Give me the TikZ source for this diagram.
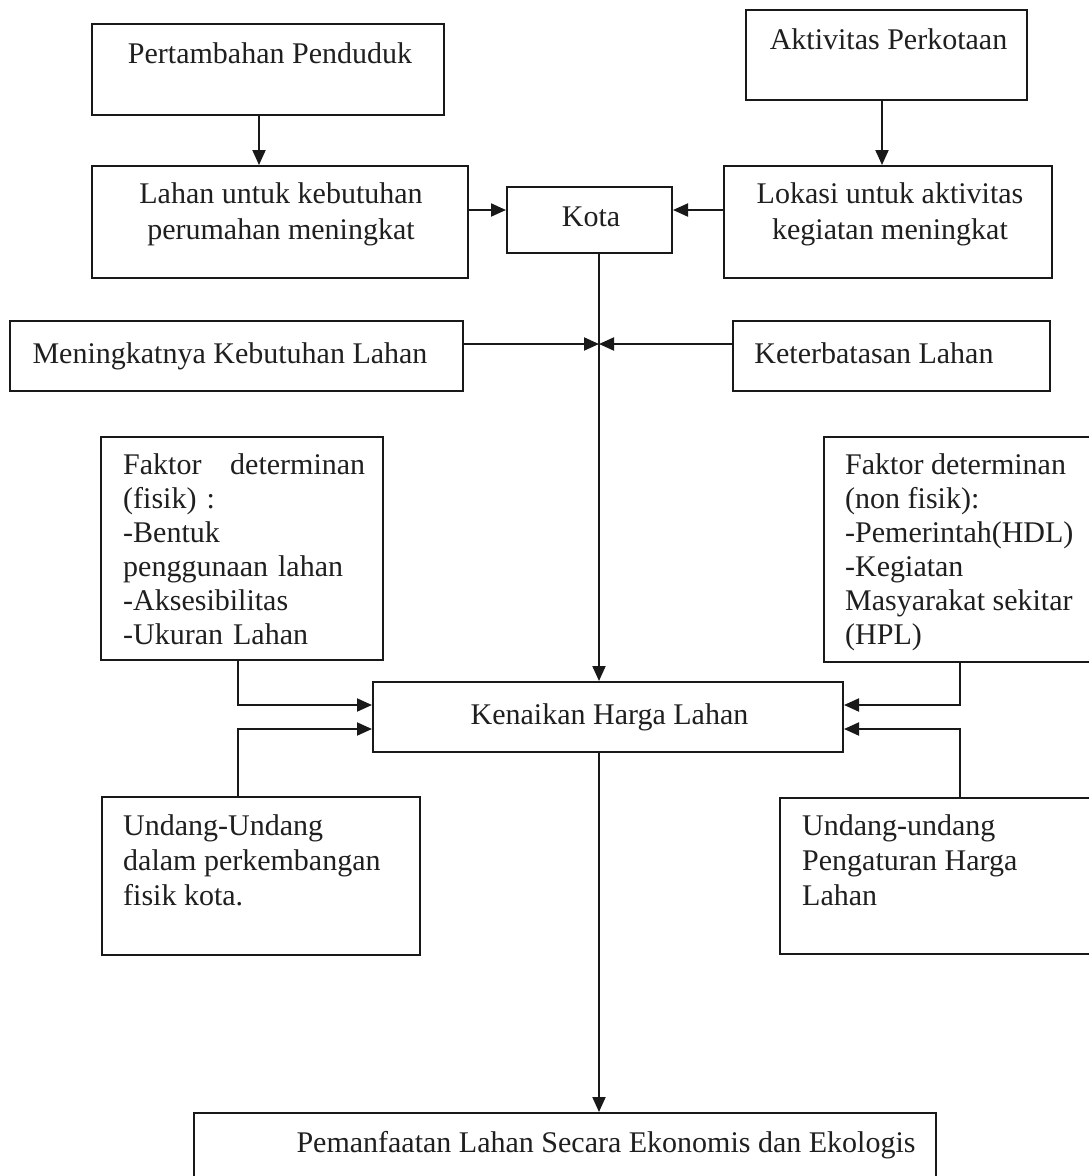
\documentclass[tikz,border=0pt]{standalone}
\usepackage{fontspec}
\setmainfont{Liberation Serif}
\usetikzlibrary{arrows.meta}
\begin{document}
\begin{tikzpicture}[x=1pt,y=-1pt,
  box/.style={draw=black!90, line width=2pt, inner sep=0pt, anchor=north west},
  txt/.style={inner sep=0pt, text=black!88, font=\fontsize{30}{34}\selectfont},
  mtxt/.style={txt, anchor=north west, align=left},
  ctxt/.style={txt, anchor=north, align=center, font=\fontsize{30}{36}\selectfont},
  con/.style={draw=black!90, line width=2pt, -{Triangle[length=15pt,width=13pt]}}]
\useasboundingbox (0,0) rectangle (1089,1176);
\fill[white] (0,0) rectangle (1089,1176);
\clip (0,0) rectangle (1089,1176);
% boxes
\node[box, minimum width=352pt, minimum height=91pt]  (pp)   at (91,23)   {};
\node[box, minimum width=281pt, minimum height=90pt]  (ap)   at (745,9)   {};
\node[box, minimum width=376pt, minimum height=112pt] (lk)   at (91,165)  {};
\node[box, minimum width=165pt, minimum height=66pt]  (kota) at (506,186) {};
\node[box, minimum width=328pt, minimum height=112pt] (la)   at (723,165) {};
\node[box, minimum width=453pt, minimum height=70pt]  (mk)   at (9,320)   {};
\node[box, minimum width=317pt, minimum height=70pt]  (kl)   at (732,320) {};
\node[box, minimum width=282pt, minimum height=223pt] (ff)   at (100,436) {};
\node[box, minimum width=290pt, minimum height=225pt] (fn)   at (823,436) {};
\node[box, minimum width=470pt, minimum height=70pt]  (kh)   at (372,681) {};
\node[box, minimum width=318pt, minimum height=158pt] (ul)   at (101,796) {};
\node[box, minimum width=330pt, minimum height=156pt] (ur)   at (779,797) {};
\node[box, minimum width=742pt, minimum height=80pt]  (pm)   at (193,1112) {};
% texts
\node[txt, anchor=base] (tpp) at (270,63) {Pertambahan Penduduk};
\node[txt, anchor=base] (tap) at (888.5,49) {Aktivitas Perkotaan};
\node[ctxt] (tlk) at (281,181) {\rule{0pt}{22pt}Lahan untuk kebutuhan\\perumahan meningkat};
\node[txt, anchor=base] (tkota) at (591,226) {Kota};
\node[ctxt] (tla) at (890,181) {\rule{0pt}{22pt}Lokasi untuk aktivitas\\kegiatan meningkat};
\node[txt, anchor=base] (tmk) at (230,363) {Meningkatnya Kebutuhan Lahan};
\node[txt, anchor=base] (tkl) at (874,363) {Keterbatasan Lahan};
\node[mtxt, text width=242pt] (tff) at (123,452) {\rule{0pt}{22pt}Faktor\hfill determinan\\(fisik) :\\-Bentuk\\penggunaan lahan\\-Aksesibilitas\\-Ukuran Lahan};
\node[mtxt] (tfn) at (845,452) {\rule{0pt}{22pt}Faktor determinan\\(non fisik):\\-Pemerintah(HDL)\\-Kegiatan\\Masyarakat sekitar\\(HPL)};
\node[txt, anchor=base] (tkh) at (609.5,724) {Kenaikan Harga Lahan};
\node[mtxt, font=\fontsize{30}{35}\selectfont] (tul) at (123,813) {\rule{0pt}{22pt}Undang-Undang\\dalam perkembangan\\fisik kota.};
\node[mtxt, font=\fontsize{30}{35}\selectfont] (tur) at (802,813) {\rule{0pt}{22pt}Undang-undang\\Pengaturan Harga\\Lahan};
\node[txt, anchor=base] (tpm) at (606,1152) {Pemanfaatan Lahan Secara Ekonomis dan Ekologis};
% connectors
\draw[con] ([xshift=-9pt]pp.south) -- ([xshift=-9pt]pp.south |- lk.north);
\draw[con] ([xshift=-4.5pt]ap.south) -- ([xshift=-4.5pt]ap.south |- la.north);
\draw[con] ([yshift=10pt]kota.west -| lk.east) -- ([yshift=10pt]kota.west);
\draw[con] ([yshift=10pt]kota.east -| la.west) -- ([yshift=10pt]kota.east);
\coordinate (axis) at ([xshift=9.5pt]kota.south);
\draw[con] (axis) -- (axis |- kh.north);
\coordinate (mke) at ([yshift=12pt]mk.east);
\coordinate (klw) at ([yshift=12pt]kl.west);
\draw[con] (mke) -- (mke -| axis);
\draw[con] (klw) -- (klw -| axis);
\draw[con] (kh.south -| axis) -- (axis |- pm.north);
\draw[con] ([xshift=-4pt]ff.south) |- ([yshift=12pt]kh.west);
\draw[con] ([xshift=-23pt]ul.north) |- ([yshift=-12pt]kh.west);
\draw[con] ([xshift=-9pt]fn.south) |- ([yshift=12pt]kh.east);
\draw[con] ([xshift=15pt]ur.north) |- ([yshift=-12pt]kh.east);
\end{tikzpicture}
\end{document}
